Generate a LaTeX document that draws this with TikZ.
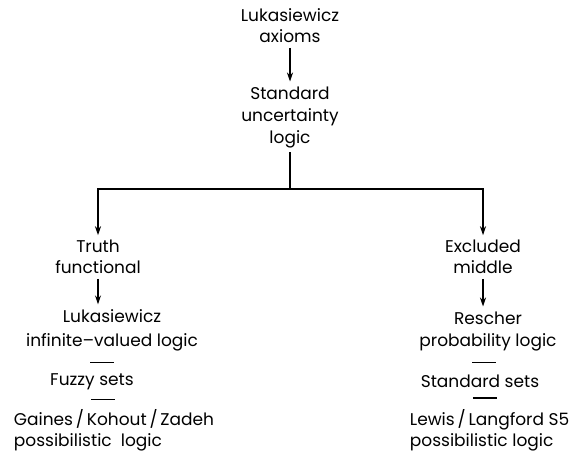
\documentclass[tikz,border=0pt]{standalone}
\usepackage{fontspec}
\setmainfont{Poppins}
\usetikzlibrary{arrows.meta}

\tikzset{
  lbl/.style={inner sep=2pt, align=center, font=\fontsize{8.5}{10.5}\selectfont},
  arr/.style={-{Stealth[length=4.5pt,width=3pt]}},
  sep/.style={line width=0.8pt}
}

\begin{document}
\begin{tikzpicture}[x=0.5pt,y=-0.5pt,line width=0.9pt]
            \useasboundingbox (0,0) rectangle (582,451);
            % Top of the tree
            \node[lbl] (lukax) at (290,26) {Lukasiewicz\\axioms};
            \node[lbl,font=\fontsize{8.5}{11}\selectfont] (stdlogic) at (290,117) {Standard\\uncertainty\\logic};
            \draw[arr] (lukax) -- (stdlogic);
            % Fork into the two branches
            \coordinate (fork) at (290,189);
            \node[lbl] (truth) at (98,257) {Truth\\functional};
            \node[lbl] (excl) at (483,257) {Excluded\\middle};
            \draw (stdlogic) -- (fork);
            \draw[arr] (fork) -| (truth);
            \draw[arr] (fork) -| (excl);
            % Left branch
            \node[lbl,font=\fontsize{8.5}{12}\selectfont] (lukinf) at (112,330) {Lukasiewicz\\infinite--valued logic};
            \node[lbl] (fuzzy) at (92,382) {Fuzzy sets};
            \node[lbl,anchor=west,align=left] (gaines) at (9,430) {Gaines\,/\,Kohout\,/\,Zadeh\\possibilistic\ \ logic};
            \draw[arr] (truth) -- (truth |- lukinf.north);
            % Right branch
            \node[lbl,font=\fontsize{8.5}{11}\selectfont] (rescher) at (488,331) {Rescher\\probability logic};
            \node[lbl] (stdsets) at (480,381) {Standard sets};
            \node[lbl,anchor=west,align=left] (lewis) at (405,430) {Lewis\,/\,Langford S5\\possibilistic logic};
            \draw[arr] (excl) -- (excl |- rescher.north);
            % Short bars between equivalent notions
            \path (lukinf.south) -- (fuzzy.north) coordinate[midway] (b1);
            \path (fuzzy.south) -- (gaines.north) coordinate[midway] (b2);
            \path (rescher.south) -- (stdsets.north) coordinate[midway] (b3);
            \path (stdsets.south) -- (lewis.north) coordinate[midway] (b4);
            \foreach \b in {b1,b2,b3,b4}
              \draw[sep] ([xshift=-6pt]\b) -- ([xshift=6pt]\b);
        \end{tikzpicture}
\end{document}
